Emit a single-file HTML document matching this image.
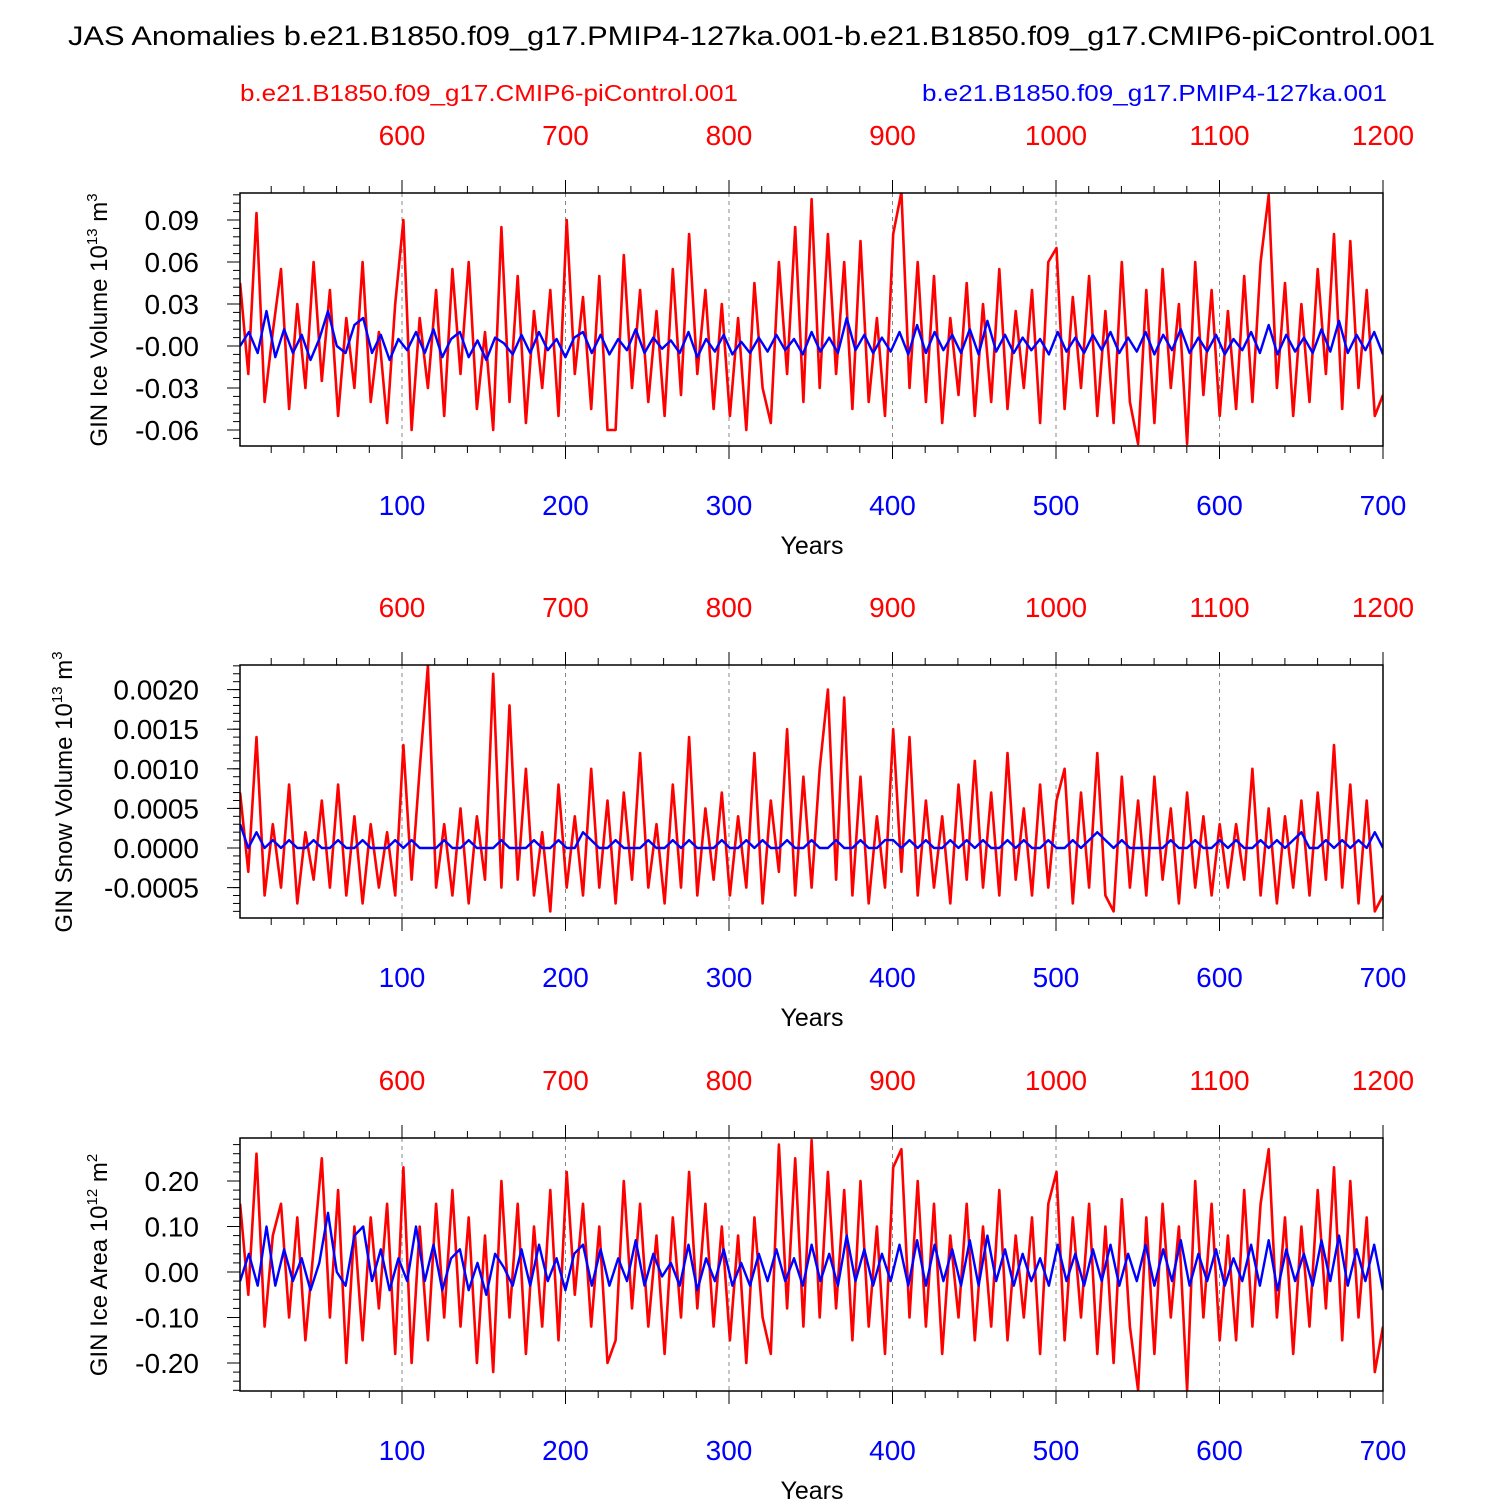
<!DOCTYPE html>
<html><head><meta charset="utf-8">
<style>
html,body{margin:0;padding:0;background:#fff;}
svg text{font-family:"Liberation Sans",sans-serif;}
</style></head>
<body>
<svg id="chart" xmlns="http://www.w3.org/2000/svg" width="1500" height="1500" viewBox="0 0 1500 1500">
<text x="68" y="45" font-size="27" textLength="1367" lengthAdjust="spacingAndGlyphs">JAS Anomalies b.e21.B1850.f09_g17.PMIP4-127ka.001-b.e21.B1850.f09_g17.CMIP6-piControl.001</text>
<text x="240" y="101" font-size="23" fill="#ff0000" textLength="498" lengthAdjust="spacingAndGlyphs">b.e21.B1850.f09_g17.CMIP6-piControl.001</text>
<text x="922" y="101" font-size="23" fill="#0000ff" textLength="465" lengthAdjust="spacingAndGlyphs">b.e21.B1850.f09_g17.PMIP4-127ka.001</text>
</svg>
<script>
// ---- data (sampled every 5 years, values in units of the *_UNIT constants) ----
const iceVolUnit = 0.001;
const iceVolRed = [45,-20,95,-40,10,55,-45,30,-30,60,-25,
40,-50,20,-30,60,-40,10,-55,30,90,
-60,20,-30,40,-50,55,-20,60,-45,10,
-60,85,-40,50,-55,25,-30,40,-50,90,
-20,35,-45,50,-60,-60,65,-30,40,-40,
25,-50,55,-35,80,-20,40,-45,30,-50,
20,-60,45,-30,-55,60,-20,85,-40,105,
-30,80,-20,60,-45,75,-40,20,-50,80,
110,-30,60,-40,50,-55,20,-35,45,-50,
30,-40,55,-45,25,-30,40,-55,60,70,
-45,35,-30,50,-50,25,-55,60,-40,-70,
40,-55,55,-30,30,-70,60,-35,40,-50,
25,-45,50,-40,60,108,-30,45,-50,30,
-40,55,-20,80,-45,75,-30,40,-50,-35];
const iceVolBlue = [0,10,-5,25,-8,12,-5,8,-10,5,25,0,-5,15,20,-5,8,-10,5,-3,10,-5,12,-8,5,10,-8,4,-10,6,2,-6,8,-5,10,-3,5,-8,6,10,-5,8,-6,5,-3,12,-5,6,-2,4,-5,10,-8,5,-4,8,-6,3,-5,6,-4,8,-3,5,-6,10,-4,6,-5,20,-3,8,-5,6,-4,10,-6,15,-5,10,-3,8,-5,12,-6,18,-4,8,-5,6,-3,5,-6,10,-4,6,-5,8,-3,10,-5,6,-4,10,-6,8,-3,12,-5,6,-4,8,-6,5,-3,10,-5,15,-6,8,-4,6,-5,12,-4,18,-5,8,-3,10,-6];
const snowUnit = 0.0001;
const snowRed = [7,-3,14,-6,3,-5,8,-7,2,-4,6,
-5,8,-6,4,-7,3,-5,2,-6,13,
-4,10,23,-5,3,-6,5,-7,4,-4,
22,-5,18,-4,10,-6,2,-8,8,-5,
4,-6,10,-5,6,-7,7,-4,12,-5,
3,-7,8,-5,14,-6,5,-4,7,-6,
4,-5,12,-7,6,-3,15,-6,9,-5,
10,20,-4,19,-6,9,-7,4,-5,15,
-3,14,-6,6,-5,4,-7,8,-4,11,
-5,7,-6,12,-4,5,-6,8,-5,6,
10,-7,7,-5,12,-6,-8,9,-5,6,
-6,9,-4,5,-7,7,-5,4,-6,3,
-5,3,-4,10,-6,5,-7,4,-5,6,
-6,7,-4,13,-5,8,-7,6,-8,-6];
const snowBlue = [3,0,2,0,1,0,1,0,0,1,0,0,1,0,0,1,0,0,0,1,0,1,0,0,0,1,0,0,1,0,0,0,1,0,0,0,1,0,0,1,0,0,2,1,0,0,1,0,0,0,1,0,0,1,0,1,0,0,0,1,0,0,1,0,1,0,0,1,0,0,1,0,0,1,0,0,1,0,0,1,1,0,1,0,1,0,0,1,0,1,0,1,0,0,1,0,1,0,0,1,0,0,1,0,1,2,1,0,1,0,0,0,0,0,1,0,0,1,0,0,1,0,1,0,0,1,0,1,0,1,2,0,0,1,0,1,0,1,0,2,0];
const areaUnit = 0.01;
const areaRed = [15,-5,26,-12,8,15,-10,12,-15,5,25,
-10,18,-20,10,-15,12,-8,15,-18,23,
-20,10,-15,15,-10,18,-12,12,-20,8,
-22,20,-10,15,-18,10,-12,18,-15,22,
-5,15,-12,10,-20,-15,20,-8,15,-12,
8,-18,12,-10,22,-8,15,-12,10,-15,
8,-20,12,-10,-18,28,-8,25,-12,29,
-10,22,-8,18,-15,20,-12,10,-18,23,
27,-10,20,-12,15,-18,8,-10,15,-15,
10,-12,18,-15,8,-10,12,-18,15,22,
-15,12,-10,15,-18,10,-20,16,-12,-26,
12,-18,15,-10,10,-26,20,-10,15,-15,
8,-15,18,-12,15,27,-10,12,-18,10,
-12,18,-8,23,-15,20,-10,12,-22,-12];
const areaBlue = [-2,4,-3,10,-3,5,-2,3,-4,2,13,0,-3,8,10,-2,5,-4,3,-2,10,-2,6,-4,3,5,-4,2,-5,4,1,-3,5,-3,6,-2,3,-4,4,6,-3,5,-3,3,-2,7,-3,4,-1,2,-3,6,-4,3,-2,5,-3,2,-3,4,-2,5,-2,3,-3,6,-2,4,-3,8,-2,5,-3,4,-2,6,-3,7,-3,6,-2,5,-3,7,-3,8,-2,5,-3,4,-2,3,-3,6,-2,4,-3,5,-2,6,-3,4,-2,6,-3,5,-2,7,-3,4,-2,5,-3,3,-2,6,-3,7,-4,5,-2,4,-3,7,-2,8,-3,5,-2,6,-4];
const bottomTicks = [100,200,300,400,500,600,700];
const topTicks = ["600","700","800","900","1000","1100","1200"];
const iceVolTicks = [0.09,0.06,0.03,0,-0.03,-0.06];
const iceVolTickLabels = ["0.09","0.06","0.03","-0.00","-0.03","-0.06"];
const snowTicks = [0.002,0.0015,0.001,0.0005,0,-0.0005];
const snowTickLabels = ["0.0020","0.0015","0.0010","0.0005","0.0000","-0.0005"];
const areaTicks = [0.2,0.1,0,-0.1,-0.2];
const areaTickLabels = ["0.20","0.10","0.00","-0.10","-0.20"];

const NS = "http://www.w3.org/2000/svg";
const svg = document.getElementById('chart');
function mk(tag, attrs, parent){const e=document.createElementNS(NS,tag);for(const k in attrs)e.setAttribute(k,attrs[k]);(parent||svg).appendChild(e);return e;}

const X0 = 240, X1 = 1383, YEARMAX = 700;
function xs(yr){ return 238.5 + yr*1.635; }

function panel(cfg){
  const g = mk('g',{});
  
  
  const top = cfg.top, bot = cfg.top+253;
  const ys = v => cfg.y0 - (v/cfg.step)*cfg.stepPx;
  bottomTicks.forEach(t=>{ if(t<700){ const l=mk('line',{x1:xs(t),x2:xs(t),y1:top,y2:bot,stroke:'#888','stroke-width':1,'stroke-dasharray':'4,4'},g);
      }});
  for(let t=20;t<700;t+=20){ if(t%100===0) continue;
    mk('line',{x1:xs(t),x2:xs(t),y1:top,y2:top-7,stroke:'#000','stroke-width':1},g);
    mk('line',{x1:xs(t),x2:xs(t),y1:bot,y2:bot+7,stroke:'#000','stroke-width':1},g);
  }
  bottomTicks.forEach((t,i)=>{
    mk('line',{x1:xs(t),x2:xs(t),y1:top,y2:top-13,stroke:'#000','stroke-width':1},g);
    mk('line',{x1:xs(t),x2:xs(t),y1:bot,y2:bot+13,stroke:'#000','stroke-width':1},g);
    const b=mk('text',{x:xs(t),y:bot+69,'font-size':28,fill:'#0000ff','text-anchor':'middle'},g); b.textContent=t;
     
    const tt=mk('text',{x:xs(t),y:top-48,'font-size':28,fill:'#ff0000','text-anchor':'middle'},g); tt.textContent=topTicks[i];
     
  });
  const xt=mk('text',{x:812,y:bot+108,'font-size':25,'text-anchor':'middle'},g); xt.textContent='Years';
   
  cfg.ticks.forEach((v,i)=>{
    const y=ys(v);
    mk('line',{x1:X0,x2:X0-13,y1:y,y2:y,stroke:'#000','stroke-width':1},g);
    const t=mk('text',{x:199,y:y+10,'font-size':28,'text-anchor':'end'},g); t.textContent=cfg.labels[i];
     
  });
  const minor = cfg.step/5;
  for(let k=-40;k<=40;k++){ const v=k*minor; const y=ys(v); if(y<top||y>bot) continue;
    mk('line',{x1:X0,x2:X0-7,y1:y,y2:y,stroke:'#000','stroke-width':1},g); }
  const clipId='clip-'+cfg.name;
  const cp=mk('clipPath',{id:clipId},g); mk('rect',{x:X0,y:top,width:X1-X0,height:253},cp);
  [[cfg.red,'#ff0000',2.6,'red-series-line'],[cfg.blue,'#0000ff',2.4,'blue-series-line']].forEach(([arr,col,w,nm])=>{
    const n=arr.length;
    const pts=arr.map((v,i)=>xs(1+i*(YEARMAX-1)/(n-1)).toFixed(1)+','+ys(v*cfg.unit).toFixed(1)).join(' ');
    const p=mk('polyline',{points:pts,fill:'none',stroke:col,'stroke-width':w,'stroke-linejoin':'round','clip-path':'url(#'+clipId+')'},g);
    
    
  });
  const fr=mk('rect',{x:X0,y:top,width:X1-X0,height:253,fill:'none',stroke:'#000','stroke-width':1.5},g);
   
  const yt=mk('text',{x:0,y:0,'font-size':24,'text-anchor':'middle',transform:`translate(${cfg.tx},${cfg.ty}) rotate(-90)`},g);
   
  const a=mk('tspan',{},yt); a.textContent=cfg.title+' 10';
  const s=mk('tspan',{dy:-10,'font-size':15},yt); s.textContent=cfg.exp1;
  const b=mk('tspan',{dy:10},yt); b.textContent=' m';
  const s2=mk('tspan',{dy:-10,'font-size':15},yt); s2.textContent=cfg.exp2;
}

panel({name:'ice-volume-panel',top:193,y0:346,step:0.03,stepPx:42,ticks:iceVolTicks,labels:iceVolTickLabels,red:iceVolRed,blue:iceVolBlue,unit:iceVolUnit,title:'GIN Ice Volume',exp1:'13',exp2:'3',tx:107,ty:320});
panel({name:'snow-volume-panel',top:665,y0:848,step:0.0005,stepPx:39.6,ticks:snowTicks,labels:snowTickLabels,red:snowRed,blue:snowBlue,unit:snowUnit,title:'GIN Snow Volume',exp1:'13',exp2:'3',tx:72,ty:792});
panel({name:'ice-area-panel',top:1138,y0:1272,step:0.1,stepPx:45.5,ticks:areaTicks,labels:areaTickLabels,red:areaRed,blue:areaBlue,unit:areaUnit,title:'GIN Ice Area',exp1:'12',exp2:'2',tx:107,ty:1265});
</script>
</body></html>
